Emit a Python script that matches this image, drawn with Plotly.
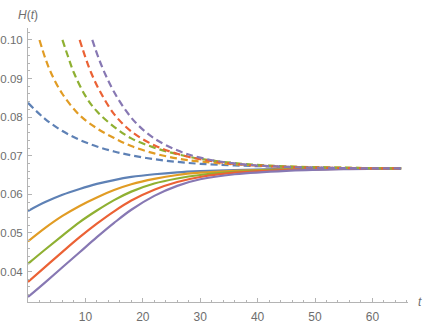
import plotly.graph_objects as go

# colours of the five parameter values (Mathematica default palette)
colors = ["#5E81B5", "#E19C24", "#8FB032", "#EB6235", "#8778B3"]

# solid curves (start below the limit)
t_solid = [0, 3, 6, 9, 12, 15, 18, 22, 26, 30, 36, 45, 55, 65]
h_solid_blue = [0.0557, 0.0580, 0.0599, 0.0614, 0.0627, 0.0637, 0.0645, 0.0652, 0.0657, 0.0660, 0.0663, 0.0666, 0.0667, 0.0667]
h_solid_orange = [0.0478, 0.0513, 0.0544, 0.0570, 0.0592, 0.0611, 0.0626, 0.0640, 0.0650, 0.0656, 0.0661, 0.0665, 0.0666, 0.0667]
h_solid_green = [0.0420, 0.0457, 0.0493, 0.0528, 0.0558, 0.0585, 0.0607, 0.0628, 0.0641, 0.0650, 0.0658, 0.0664, 0.0666, 0.0667]
h_solid_red = [0.0373, 0.0412, 0.0451, 0.0489, 0.0524, 0.0556, 0.0584, 0.0612, 0.0632, 0.0645, 0.0656, 0.0663, 0.0666, 0.0667]
h_solid_purple = [0.0334, 0.0372, 0.0411, 0.0450, 0.0489, 0.0526, 0.0560, 0.0596, 0.0622, 0.0639, 0.0652, 0.0661, 0.0665, 0.0667]

# dashed curves (start above the limit, cut at H = 0.10)
t_dash_blue = [0, 3, 6, 9, 12, 15, 18, 22, 26, 30, 36, 45, 55, 65]
h_dash_blue = [0.0837, 0.0795, 0.0764, 0.0741, 0.0724, 0.0711, 0.0701, 0.0691, 0.0684, 0.0679, 0.0675, 0.0671, 0.0668, 0.0667]
t_dash_orange = [2, 3, 4, 6, 9, 12, 15, 18, 22, 26, 30, 36, 45, 55, 65]
h_dash_orange = [0.1000, 0.0953, 0.0915, 0.0860, 0.0805, 0.0771, 0.0746, 0.0725, 0.0706, 0.0693, 0.0685, 0.0678, 0.0672, 0.0669, 0.0667]
t_dash_green = [6, 7, 8, 10, 12, 15, 18, 22, 26, 30, 36, 45, 55, 65]
h_dash_green = [0.1000, 0.0956, 0.0915, 0.0855, 0.0815, 0.0775, 0.0745, 0.0721, 0.0704, 0.0692, 0.0681, 0.0672, 0.0669, 0.0667]
t_dash_red = [9, 10, 11, 12.5, 15, 18, 22, 26, 30, 36, 45, 55, 65]
h_dash_red = [0.1000, 0.0955, 0.0915, 0.0868, 0.0808, 0.0763, 0.0727, 0.0705, 0.0691, 0.0679, 0.0671, 0.0668, 0.0667]
t_dash_purple = [11.2, 12.3, 13.5, 15, 17, 19, 22, 26, 30, 36, 45, 55, 65]
h_dash_purple = [0.1000, 0.0953, 0.0910, 0.0865, 0.0818, 0.0782, 0.0745, 0.0714, 0.0695, 0.0680, 0.0671, 0.0668, 0.0667]

x_tickvals = [10, 20, 30, 40, 50, 60]
y_tickvals = [0.04, 0.05, 0.06, 0.07, 0.08, 0.09, 0.10]
y_ticktext = ["0.04", "0.05", "0.06", "0.07", "0.08", "0.09", "0.10"]

x_range = [0, 66.2]
y_range = [0.0321, 0.1031]

solids = [h_solid_blue, h_solid_orange, h_solid_green, h_solid_red, h_solid_purple]
dashes = [(t_dash_blue, h_dash_blue), (t_dash_orange, h_dash_orange), (t_dash_green, h_dash_green),
          (t_dash_red, h_dash_red), (t_dash_purple, h_dash_purple)]

fig = go.Figure()
for h, c in zip(solids, colors):
    fig.add_trace(go.Scatter(x=t_solid, y=h, mode="lines", line=dict(color=c, width=2.2, shape="spline")))
for (t, h), c in zip(dashes, colors):
    fig.add_trace(go.Scatter(x=t, y=h, mode="lines", line=dict(color=c, width=2.2, shape="spline", dash="7px,4px")))

gray = "#b4b4b4"
font = "Liberation Sans, Arial, sans-serif"
labcolor = "#6e6e6e"

fig.update_layout(
    width=425, height=327,
    margin=dict(l=28, r=17, t=28, b=25),
    plot_bgcolor="white", paper_bgcolor="white",
    showlegend=False,
    xaxis=dict(range=x_range, showgrid=False, zeroline=False, showline=True, linecolor=gray, linewidth=1,
               tickmode="array", tickvals=x_tickvals, ticks="inside", ticklen=4, tickcolor=gray,
               tickfont=dict(family=font, size=12, color=labcolor), ticklabelstandoff=4,
               minor=dict(dtick=2, tick0=0, ticks="inside", ticklen=2, tickcolor=gray),
               automargin=False),
    yaxis=dict(range=y_range, showgrid=False, zeroline=False, showline=True, linecolor=gray, linewidth=1,
               tickmode="array", tickvals=y_tickvals, ticktext=y_ticktext, ticks="inside", ticklen=4, tickcolor=gray,
               tickfont=dict(family=font, size=11.5, color=labcolor), ticklabelstandoff=2,
               minor=dict(dtick=0.002, tick0=0.03, ticks="inside", ticklen=2, tickcolor=gray),
               automargin=False),
    annotations=[
        dict(text="<i>H</i>(<i>t</i>)", xref="paper", yref="paper", x=0, y=1, xanchor="center", yanchor="bottom",
             yshift=4, showarrow=False, font=dict(family=font, size=12, color=labcolor)),
        dict(text="<i>t</i>", xref="paper", yref="paper", x=1, y=0, xanchor="center", yanchor="middle",
             xshift=12, showarrow=False, font=dict(family=font, size=12, color=labcolor)),
    ],
)

# drop the page's default body margin so the figure sits at the window's corner
fig.write_html("out.html", config={"displayModeBar": False},
               post_script="document.body.style.margin='0';")
